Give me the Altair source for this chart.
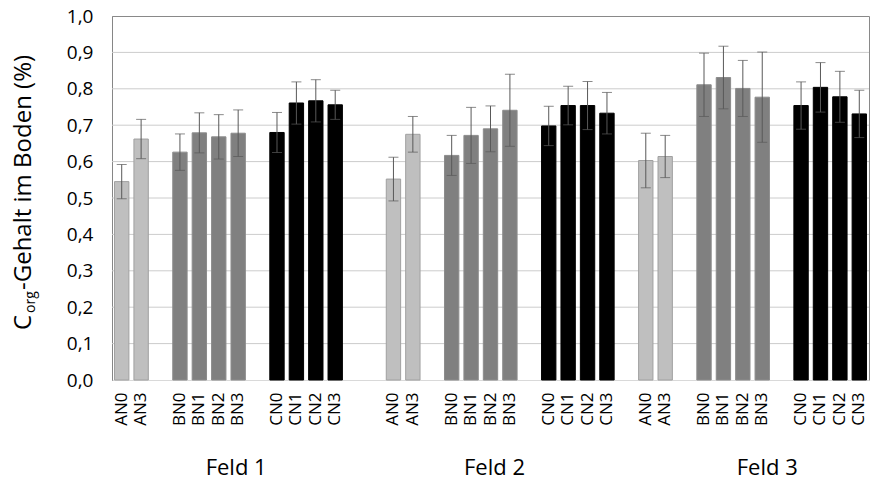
import altair as alt
import pandas as pd

# ---- data ----
fields = ["Feld 1", "Feld 2", "Feld 3"]
treatments = ["AN0", "AN3", "BN0", "BN1", "BN2", "BN3", "CN0", "CN1", "CN2", "CN3"]

means_f1 = [0.545, 0.662, 0.626, 0.679, 0.668, 0.678, 0.680, 0.761, 0.767, 0.756]
errs_f1 = [0.047, 0.054, 0.050, 0.055, 0.061, 0.064, 0.055, 0.058, 0.058, 0.040]
means_f2 = [0.552, 0.675, 0.617, 0.672, 0.690, 0.741, 0.698, 0.754, 0.754, 0.733]
errs_f2 = [0.060, 0.049, 0.055, 0.077, 0.063, 0.099, 0.054, 0.053, 0.066, 0.057]
means_f3 = [0.603, 0.614, 0.811, 0.831, 0.801, 0.777, 0.754, 0.804, 0.778, 0.731]
errs_f3 = [0.075, 0.058, 0.087, 0.086, 0.077, 0.124, 0.065, 0.068, 0.070, 0.065]

y_ticks = [0.0, 0.1, 0.2, 0.3, 0.4, 0.5, 0.6, 0.7, 0.8, 0.9, 1.0]

# ---- build slots (with empty gap slots) ----
slot_pattern = ["AN0", "AN3", None, "BN0", "BN1", "BN2", "BN3", None, "CN0", "CN1", "CN2", "CN3"]
field_gaps = [2, 1, 0]
domain = []
for fi in range(3):
    for k, t in enumerate(slot_pattern):
        domain.append(f"{fi+1}|{t}" if t else f"gap{fi+1}_{k}")
    for g in range(field_gaps[fi]):
        domain.append(f"fgap{fi+1}_{g}")

rows = []
for fi, (m, e) in enumerate([(means_f1, errs_f1), (means_f2, errs_f2), (means_f3, errs_f3)]):
    for t, mv, ev in zip(treatments, m, e):
        rows.append({"key": f"{fi+1}|{t}", "field": fields[fi], "grp": t[0],
                     "mean": mv, "lo": mv - ev, "hi": mv + ev})
df = pd.DataFrame(rows)

x_axis = alt.Axis(title=None, labelAngle=-90, labelFontSize=17, labelColor="#000000",
                  labelPadding=12, ticks=False, domainColor="#D9D9D9", grid=False,
                  labelOverlap=False, labelBound=False,
                  labelExpr="indexof(datum.value, '|') >= 0 ? split(datum.value, '|')[1] : ''")
x_scale = alt.Scale(domain=domain, paddingInner=0.26, paddingOuter=0.13)

y_axis = alt.Axis(title=None, values=y_ticks, tickCount=11, labelFontSize=19, labelColor="#000000",
                  labelPadding=19, ticks=False, grid=False,
                  labelOverlap=False, labelBound=False,
                  domainColor="#868686",
                  labelExpr="replace(format(datum.value, '.1f'), '.', ',')")
y_scale = alt.Scale(domain=[0, 1], nice=False, zero=True)


def X():
    return alt.X("key:N", scale=x_scale, sort=domain, axis=x_axis)


def Y(f):
    return alt.Y(f, type="quantitative", scale=y_scale, axis=y_axis)


# horizontal gridlines drawn from the tick values
grid = alt.Chart(pd.DataFrame({"v": y_ticks[1:-1]})).mark_rule(
    color="#CCCCCC", strokeWidth=1
).encode(y=Y("v"), x=alt.value(0), x2=alt.value(757))

base = alt.Chart(df)

bars = base.mark_bar(strokeWidth=1).encode(
    x=X(),
    y=Y("mean"),
    color=alt.Color("grp:N", scale=alt.Scale(domain=["A", "B", "C"],
                                             range=["#BFBFBF", "#808080", "#000000"]), legend=None),
    stroke=alt.Stroke("grp:N", scale=alt.Scale(domain=["A", "B", "C"],
                                               range=["#A0A0A0", "#8C8C8C", "#000000"]), legend=None),
)

err_rule = base.mark_rule(color="#595959", strokeWidth=1).encode(
    x=X(), y=Y("lo"), y2="hi:Q")
cap_hi = base.mark_tick(color="#595959", thickness=1, size=10).encode(x=X(), y=Y("hi"))
cap_lo = base.mark_tick(color="#595959", thickness=1, size=10).encode(x=X(), y=Y("lo"))

# field labels under the axis
feld_keys = ["1|BN3", "2|BN2", "3|BN3"]
feld_dx = [-2, 4, 5]
feld_layers = []
for name, k, dx in zip(fields, feld_keys, feld_dx):
    feld_layers.append(
        alt.Chart(pd.DataFrame({"key": [k], "label": [name]})).mark_text(
            fontSize=22, color="#000000", dx=dx, baseline="middle"
        ).encode(x=X(), y=alt.value(452), text="label:N")
    )

# y-axis title with subscript "org"
title_main = alt.Chart(pd.DataFrame({"t": ["C"]})).mark_text(
    fontSize=24, angle=270, align="left", baseline="alphabetic", color="#000000"
).encode(text="t:N", x=alt.value(-81), y=alt.value(314))
title_sub = alt.Chart(pd.DataFrame({"t": ["org"]})).mark_text(
    fontSize=14, angle=270, align="left", baseline="alphabetic", color="#000000"
).encode(text="t:N", x=alt.value(-77), y=alt.value(297))
title_rest = alt.Chart(pd.DataFrame({"t": ["-Gehalt im Boden (%)"]})).mark_text(
    fontSize=24, angle=270, align="left", baseline="alphabetic", color="#000000"
).encode(text="t:N", x=alt.value(-81), y=alt.value(274))

chart = alt.layer(grid, bars, err_rule, cap_hi, cap_lo, *feld_layers, title_main, title_sub, title_rest).properties(
    width=757, height=364,
    padding={"left": 112, "top": 16, "right": 4, "bottom": 100},
    autosize=alt.AutoSizeParams(type="none"),
).configure(font="Open Sans").configure_view(stroke="#898989", strokeWidth=1)

chart.save("out.html", embed_options={"renderer": "svg", "actions": False})
